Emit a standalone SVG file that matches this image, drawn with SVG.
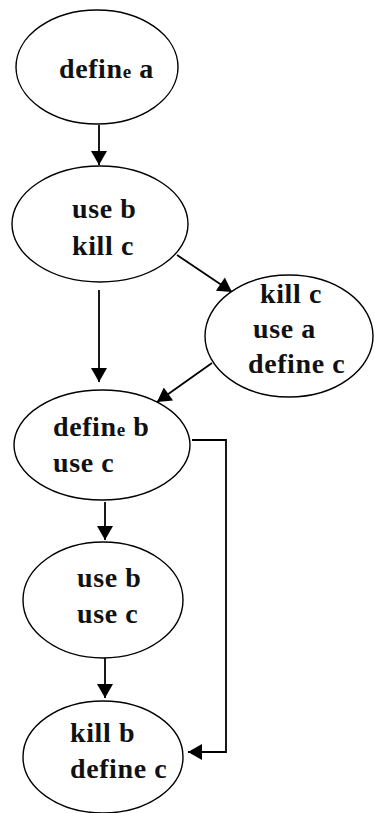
<svg xmlns="http://www.w3.org/2000/svg" width="375" height="813" viewBox="0 0 375 813">
<style>
.n ellipse{fill:#fff;stroke:#000;stroke-width:1.4}
.n text{font-family:"Liberation Serif","Times New Roman",serif;font-weight:bold;font-size:28px;letter-spacing:0.6px;fill:#111}
.s{font-size:19px}
.c line,.c polyline{stroke:#000;stroke-width:1.8;fill:none}
</style>
<defs>
<marker id="ah" markerUnits="userSpaceOnUse" markerWidth="16" markerHeight="16" viewBox="0 0 14 16" refX="14" refY="8" orient="auto">
<path d="M0,0 L14,8 L0,16 Z" fill="#000"/>
</marker>
</defs>
<g class="c" id="connectors">
<line x1="99" y1="125" x2="99" y2="165" marker-end="url(#ah)"/>
<line x1="177" y1="255" x2="232" y2="292" marker-end="url(#ah)"/>
<line x1="99" y1="290" x2="99" y2="382" marker-end="url(#ah)"/>
<line x1="212" y1="363" x2="157" y2="402" marker-end="url(#ah)"/>
<polyline points="192,440 226,440 226,752 188,752" marker-end="url(#ah)"/>
<line x1="105" y1="502" x2="105" y2="540" marker-end="url(#ah)"/>
<line x1="105" y1="657" x2="105" y2="698" marker-end="url(#ah)"/>
</g>
<g class="n" id="n1">
<ellipse cx="97" cy="67" rx="81" ry="57"/>
<text x="59" y="78">defin<tspan class="s">e</tspan> a</text>
</g>
<g class="n" id="n2">
<ellipse cx="100" cy="224" rx="88" ry="58"/>
<text x="72" y="218">use b</text>
<text x="72" y="255">kill c</text>
</g>
<g class="n" id="n3">
<ellipse cx="289" cy="336" rx="84" ry="61"/>
<text x="260" y="303">kill c</text>
<text x="253" y="338">use a</text>
<text x="248" y="373">define c</text>
</g>
<g class="n" id="n4">
<ellipse cx="102" cy="445" rx="88" ry="55"/>
<text x="53" y="436">defin<tspan class="s">e</tspan> b</text>
<text x="53" y="472">use c</text>
</g>
<g class="n" id="n5">
<ellipse cx="103" cy="600" rx="80" ry="58"/>
<text x="77" y="587">use b</text>
<text x="77" y="623">use c</text>
</g>
<g class="n" id="n6">
<ellipse cx="103" cy="757" rx="80" ry="56"/>
<text x="70" y="742">kill b</text>
<text x="70" y="778">define c</text>
</g>
</svg>
